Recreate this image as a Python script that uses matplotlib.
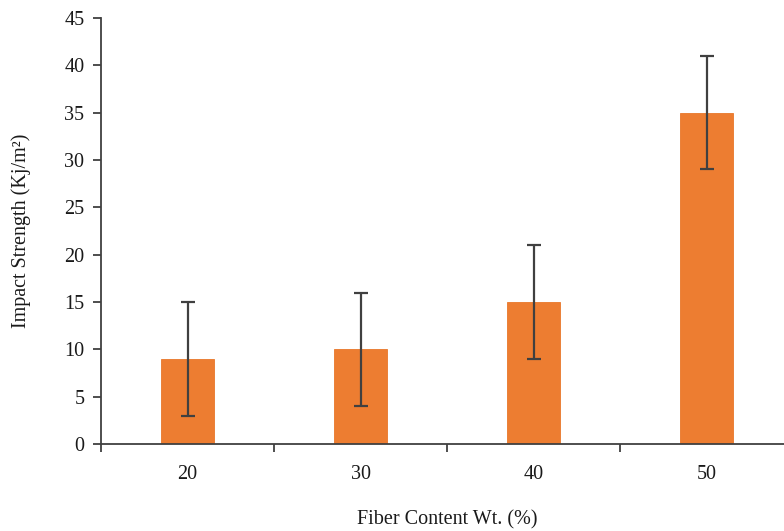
import matplotlib
matplotlib.use("Agg")
import matplotlib.pyplot as plt
import numpy as np

# data
fiber_content = ["20", "30", "40", "50"]
impact_strength = [9, 10, 15, 35]
error = [6, 6, 6, 6]

plt.rcParams['font.family'] = ['Liberation Serif', 'DejaVu Serif']

fig = plt.figure(figsize=(7.84, 5.31), dpi=100, facecolor='white')
# axes extend a bit past the right edge, like the original
ax = fig.add_axes([101 / 784, 87 / 531, 692 / 784, 426 / 531])

x = np.arange(len(fiber_content))
ax.bar(x, impact_strength, width=0.31, color='#ED7D31', edgecolor='#E8772A', linewidth=0.6, zorder=2)
ax.errorbar(x, impact_strength, yerr=error, fmt='none', ecolor='#404040',
            elinewidth=1.6, capsize=5, capthick=1.6, zorder=3)

ax.set_xlim(-0.5, len(fiber_content) - 0.5)
ax.set_ylim(0, 45)
ax.set_yticks(np.arange(0, 46, 5))

# tick marks between categories, labels at the centres
ax.set_xticks(np.arange(-0.5, len(fiber_content)), labels=[])
ax.set_xticks(x, labels=fiber_content, minor=True)
ax.tick_params(axis='x', which='major', direction='out', length=6, width=1.3, color='#404040')
ax.tick_params(axis='x', which='minor', length=0, pad=15, labelsize=14.5, labelcolor='#1a1a1a')
ax.tick_params(axis='y', direction='out', length=6, width=1.3, color='#404040',
               labelsize=14.5, labelcolor='#1a1a1a', pad=6)

for side in ['top', 'right']:
    ax.spines[side].set_visible(False)
for side in ['left', 'bottom']:
    ax.spines[side].set_color('#404040')
    ax.spines[side].set_linewidth(1.3)

ax.set_ylabel('Impact Strength (Kj/m\u00b2)', fontsize=14.5, color='#1a1a1a', labelpad=24)
ax.set_xlabel('Fiber Content Wt. (%)', fontsize=14.5, color='#1a1a1a', labelpad=19)

fig.savefig('out.png', dpi=100, facecolor='white')
